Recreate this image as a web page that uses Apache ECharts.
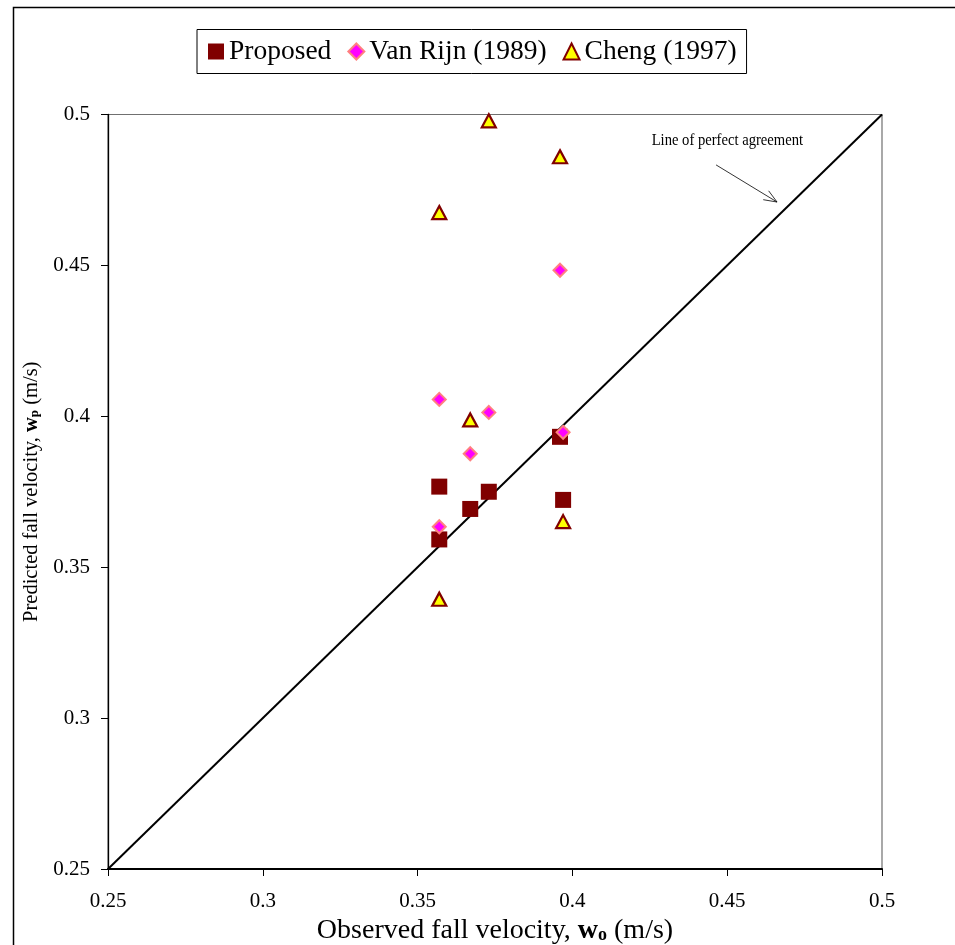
<!DOCTYPE html>
<html>
<head>
<meta charset="utf-8">
<script src="https://cdn.jsdelivr.net/npm/echarts@6/dist/echarts.min.js"></script>
<style>html,body{margin:0;padding:0;background:#fff}#c{width:955px;height:945px}</style>
</head>
<body>
<div id="c"></div>
<script>
// Observed fall velocities (x) and predictions (y)
const observedX = [0.357, 0.357, 0.367, 0.373, 0.396, 0.397];
const proposedY = [0.3767, 0.3592, 0.3693, 0.3750, 0.3932, 0.3723];
const vanRijnY  = [0.4056, 0.3634, 0.3876, 0.4013, 0.4484, 0.3947];
const chengY    = [0.4675, 0.3394, 0.3988, 0.4979, 0.4860, 0.3651];
const seriesNames = ['Proposed', 'Van Rijn (1989)', 'Cheng (1997)'];
const axisTicks = [0.25, 0.3, 0.35, 0.4, 0.45, 0.5];
const perfectLine = [[0.25, 0.25], [0.5, 0.5]];
const annotationText = 'Line of perfect agreement';
// arrow from/to in data coordinates
const arrowFrom = [0.4464, 0.4833];
const arrowTo   = [0.4661, 0.4710];

const FONT = '"Liberation Serif", "Times New Roman", serif';
const pair = ys => observedX.map((x, i) => [x, ys[i]]);

const chart = echarts.init(document.getElementById('c'), null, {renderer: 'canvas'});

const option = {
  animation: false,
  backgroundColor: '#fff',
  textStyle: {fontFamily: FONT, color: '#000'},
  grid: {left: 108, right: 73, top: 114.5, bottom: 76, containLabel: false, outerBoundsMode: 'none',
         show: true, borderColor: '#707070', borderWidth: 1.2, backgroundColor: 'transparent'},
  legend: {
    data: [
      {name: seriesNames[0], icon: 'rect'},
      {name: seriesNames[1], icon: 'diamond', itemStyle: {borderWidth: 2}},
      {name: seriesNames[2], icon: 'triangle'}
    ],
    left: 197, top: 29.5,
    borderColor: '#000', borderWidth: 1,
    padding: [8, 10, 8, 11],
    itemWidth: 16, itemHeight: 16, itemGap: 16,
    textStyle: {fontFamily: FONT, fontSize: 27.5, color: '#000', padding: [0, 0, 0, 0]}
  },
  xAxis: {
    type: 'value', min: 0.25, max: 0.5, interval: 0.05,
    name: 'Observed fall velocity, {b|w}{s|o} (m/s)',
    nameLocation: 'middle', nameGap: 39,
    nameTextStyle: {fontFamily: FONT, fontSize: 28, color: '#000',
      rich: {b: {fontFamily: FONT, fontSize: 28, fontWeight: 'bold', color: '#000'},
             s: {fontFamily: FONT, fontSize: 18, fontWeight: 'bold', color: '#000', padding: [8, 0, 0, 0]}}},
    axisLine: {lineStyle: {color: '#000', width: 2}},
    axisTick: {show: true, inside: false, length: 7, lineStyle: {color: '#000', width: 1}},
    axisLabel: {fontFamily: FONT, fontSize: 21, color: '#000', margin: 22,
      formatter: v => String(+v.toFixed(2))},
    splitLine: {show: false}
  },
  yAxis: {
    type: 'value', min: 0.25, max: 0.5, interval: 0.05,
    name: 'Predicted fall velocity, {b|w}{s|p} (m/s)',
    nameLocation: 'middle', nameGap: 54,
    nameTextStyle: {fontFamily: FONT, fontSize: 20.5, color: '#000',
      rich: {b: {fontFamily: FONT, fontSize: 20.5, fontWeight: 'bold', color: '#000'},
             s: {fontFamily: FONT, fontSize: 13, fontWeight: 'bold', color: '#000', padding: [6, 0, 0, 0]}}},
    axisLine: {lineStyle: {color: '#000', width: 1.3}},
    axisTick: {show: true, inside: false, length: 7, lineStyle: {color: '#000', width: 1}},
    axisLabel: {fontFamily: FONT, fontSize: 21, color: '#000', margin: 18,
      formatter: v => String(+v.toFixed(2))},
    splitLine: {show: false}
  },
  series: [
    {
      name: 'perfect', type: 'line', data: perfectLine, symbol: 'none',
      lineStyle: {color: '#000', width: 2}, silent: true, z: 1
    },
    {
      name: seriesNames[0], type: 'scatter', data: pair(proposedY),
      symbol: 'rect', symbolSize: 16,
      itemStyle: {color: '#800000', opacity: 1}, z: 2
    },
    {
      name: seriesNames[1], type: 'scatter', data: pair(vanRijnY),
      symbol: 'diamond', symbolSize: 13,
      itemStyle: {color: '#FF00FF', borderColor: '#FF8080', borderWidth: 2, opacity: 1}, z: 3
    },
    {
      name: seriesNames[2], type: 'scatter', data: pair(chengY),
      symbol: 'triangle', symbolSize: [14, 13],
      itemStyle: {color: '#FFFF00', borderColor: '#800000', borderWidth: 2.2, opacity: 1}, z: 4
    }
  ]
};
chart.setOption(option);

// annotation: text + open arrow, positioned via the axes
const p0 = chart.convertToPixel({gridIndex: 0}, arrowFrom);
const p1 = chart.convertToPixel({gridIndex: 0}, arrowTo);
const ang = Math.atan2(p1[1] - p0[1], p1[0] - p0[0]);
const hl = 14, ha = 0.38;
const h1 = [p1[0] - hl * Math.cos(ang - ha), p1[1] - hl * Math.sin(ang - ha)];
const h2 = [p1[0] - hl * Math.cos(ang + ha), p1[1] - hl * Math.sin(ang + ha)];
chart.setOption({
  graphic: [
    {type: 'rect', shape: {x: 13.5, y: 7.5, width: 1000, height: 1000},
     style: {fill: 'none', stroke: '#000', lineWidth: 1.5}, silent: true, z: 0},
    {type: 'text', x: p0[0] + 87, y: p0[1] - 24, scaleX: 0.86, originX: 0,
     style: {text: annotationText, fontFamily: FONT, fontSize: 17, fill: '#000', textAlign: 'right', textVerticalAlign: 'middle'}},
    {type: 'polyline', shape: {points: [p0, p1]}, style: {stroke: '#000', lineWidth: 0.8, fill: 'none'}},
    {type: 'polyline', shape: {points: [h1, p1, h2]}, style: {stroke: '#000', lineWidth: 0.8, fill: 'none'}}
  ]
});
</script>
</body>
</html>
